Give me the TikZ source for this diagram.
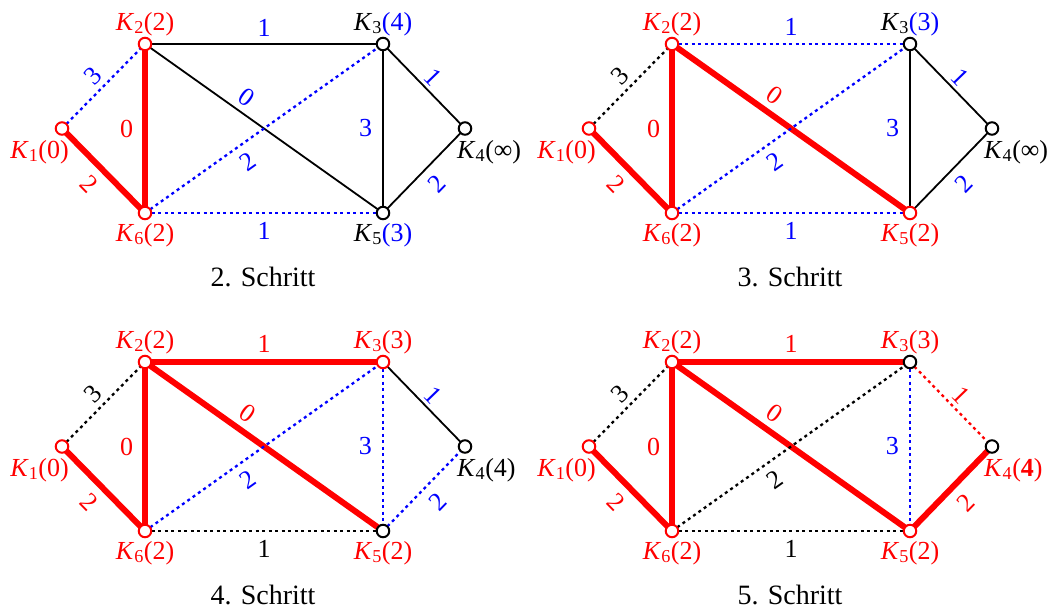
\documentclass[tikz,border=0pt]{standalone}
\usepackage{fontspec}
\setmainfont{Liberation Serif}
\pgfdeclarelayer{background}
\pgfsetlayers{background,main}
\newcommand\Kn[2]{\textit{K}\textsubscript{#1}(#2)}
\newcommand\Kh[1]{\textit{K}\textsubscript{#1}}
\tikzset{
  vx/.style={circle, draw=#1, fill=white, line width=2pt, minimum size=12.5pt, inner sep=0pt},
  vx/.default=black,
  txt/.style={inner sep=0pt, font=\fontsize{26}{30}\selectfont},
  captxt/.style={inner sep=0pt, font=\fontsize{28}{32}\selectfont},
  el/.style={inner sep=0pt, font=\fontsize{26}{30}\selectfont, text=#1},
  ered/.style={draw=red, line width=6pt},
  eblk/.style={draw=black, line width=1.8pt},
  edot/.style={draw=#1, line width=2.3pt, dash pattern=on 3pt off 3.5pt},
}
\begin{document}
\begin{tikzpicture}[x=1pt,y=-1pt]
\useasboundingbox (0,0) rectangle (1061,610);

% ---------------- Panel 1: 2. Schritt
\begin{scope}
\node[vx=red] (a1) at (62,128.5) {};
\node[vx=red] (a2) at (145,44) {};
\node[vx] (a3) at (383,44) {};
\node[vx] (a4) at (465,128.5) {};
\node[vx] (a5) at (383,213) {};
\node[vx=red] (a6) at (145,213) {};
\node[txt, text=red, anchor=east] (a1t) at (69,152) {\Kn{1}{0}};
\node[txt, text=red] (a2t) at (145,24) {\Kn{2}{2}};
\node[txt] (a3t) at (383,24) {\Kh{3}{\color{blue}(4)}};
\node[txt, anchor=west] (a4t) at (457,152) {\Kn{4}{∞}};
\node[txt] (a5t) at (383,235) {\Kh{5}{\color{blue}(3)}};
\node[txt, text=red] (a6t) at (145,235) {\Kn{6}{2}};
\node[captxt] (acap) at (263,277) {2. Schritt};
\begin{pgfonlayer}{background}
\draw[edot=blue] (a1.center) -- node[el=blue, sloped, above=5pt] {3} (a2.center);
\draw[ered] (a1.center) -- node[el=red, sloped, below=8pt] {2} (a6.center);
\draw[ered] (a2.center) -- node[el=red, left=9pt] {0} (a6.center);
\draw[eblk] (a2.center) -- node[el=blue, above=7pt] {1} (a3.center);
\draw[eblk] (a2.center) -- node[el=blue, pos=.39, sloped, above=6pt] {0} (a5.center);
\draw[edot=blue] (a6.center) -- node[el=blue, pos=.39, sloped, below=8pt] {2} (a3.center);
\draw[edot=blue] (a6.center) -- node[el=blue, below=8pt] {1} (a5.center);
\draw[eblk] (a3.center) -- node[el=blue, left=10pt] {3} (a5.center);
\draw[eblk] (a3.center) -- node[el=blue, sloped, above=4pt] {1} (a4.center);
\draw[eblk] (a5.center) -- node[el=blue, sloped, below=9pt] {2} (a4.center);
\end{pgfonlayer}
\end{scope}

% ---------------- Panel 2: 3. Schritt
\begin{scope}[shift={(527,0)}]
\node[vx=red] (b1) at (62,128.5) {};
\node[vx=red] (b2) at (145,44) {};
\node[vx] (b3) at (383,44) {};
\node[vx] (b4) at (465,128.5) {};
\node[vx=red] (b5) at (383,213) {};
\node[vx=red] (b6) at (145,213) {};
\node[txt, text=red, anchor=east] (b1t) at (69,152) {\Kn{1}{0}};
\node[txt, text=red] (b2t) at (145,24) {\Kn{2}{2}};
\node[txt] (b3t) at (383,24) {\Kh{3}{\color{blue}(3)}};
\node[txt, anchor=west] (b4t) at (457,152) {\Kn{4}{∞}};
\node[txt, text=red] (b5t) at (383,235) {\Kn{5}{2}};
\node[txt, text=red] (b6t) at (145,235) {\Kn{6}{2}};
\node[captxt] (bcap) at (263,277) {3. Schritt};
\begin{pgfonlayer}{background}
\draw[edot=black] (b1.center) -- node[el=black, sloped, above=5pt] {3} (b2.center);
\draw[ered] (b1.center) -- node[el=red, sloped, below=8pt] {2} (b6.center);
\draw[ered] (b2.center) -- node[el=red, left=9pt] {0} (b6.center);
\draw[edot=blue] (b2.center) -- node[el=blue, above=7pt] {1} (b3.center);
\draw[ered] (b2.center) -- node[el=red, pos=.39, sloped, above=6pt] {0} (b5.center);
\draw[edot=blue] (b6.center) -- node[el=blue, pos=.39, sloped, below=8pt] {2} (b3.center);
\draw[edot=blue] (b6.center) -- node[el=blue, below=8pt] {1} (b5.center);
\draw[eblk] (b3.center) -- node[el=blue, left=10pt] {3} (b5.center);
\draw[eblk] (b3.center) -- node[el=blue, sloped, above=4pt] {1} (b4.center);
\draw[eblk] (b5.center) -- node[el=blue, sloped, below=9pt] {2} (b4.center);
\end{pgfonlayer}
\end{scope}

% ---------------- Panel 3: 4. Schritt
\begin{scope}[shift={(0,318)}]
\node[vx=red] (c1) at (62,128.5) {};
\node[vx=red] (c2) at (145,44) {};
\node[vx=red] (c3) at (383,44) {};
\node[vx] (c4) at (465,128.5) {};
\node[vx] (c5) at (383,213) {};
\node[vx=red] (c6) at (145,213) {};
\node[txt, text=red, anchor=east] (c1t) at (69,152) {\Kn{1}{0}};
\node[txt, text=red] (c2t) at (145,24) {\Kn{2}{2}};
\node[txt, text=red] (c3t) at (383,24) {\Kn{3}{3}};
\node[txt, anchor=west] (c4t) at (457,152) {\Kn{4}{4}};
\node[txt, text=red] (c5t) at (383,235) {\Kn{5}{2}};
\node[txt, text=red] (c6t) at (145,235) {\Kn{6}{2}};
\node[captxt] (ccap) at (263,277) {4. Schritt};
\begin{pgfonlayer}{background}
\draw[edot=black] (c1.center) -- node[el=black, sloped, above=5pt] {3} (c2.center);
\draw[ered] (c1.center) -- node[el=red, sloped, below=8pt] {2} (c6.center);
\draw[ered] (c2.center) -- node[el=red, left=9pt] {0} (c6.center);
\draw[ered] (c2.center) -- node[el=red, above=7pt] {1} (c3.center);
\draw[ered] (c2.center) -- node[el=red, pos=.39, sloped, above=6pt] {0} (c5.center);
\draw[edot=blue] (c6.center) -- node[el=blue, pos=.39, sloped, below=8pt] {2} (c3.center);
\draw[edot=black] (c6.center) -- node[el=black, below=8pt] {1} (c5.center);
\draw[edot=blue] (c3.center) -- node[el=blue, left=10pt] {3} (c5.center);
\draw[eblk] (c3.center) -- node[el=blue, sloped, above=4pt] {1} (c4.center);
\draw[edot=blue] (c5.center) -- node[el=blue, sloped, below=9pt] {2} (c4.center);
\end{pgfonlayer}
\end{scope}

% ---------------- Panel 4: 5. Schritt
\begin{scope}[shift={(527,318)}]
\node[vx=red] (d1) at (62,128.5) {};
\node[vx=red] (d2) at (145,44) {};
\node[vx] (d3) at (383,44) {};
\node[vx] (d4) at (465,128.5) {};
\node[vx=red] (d5) at (383,213) {};
\node[vx=red] (d6) at (145,213) {};
\node[txt, text=red, anchor=east] (d1t) at (69,152) {\Kn{1}{0}};
\node[txt, text=red] (d2t) at (145,24) {\Kn{2}{2}};
\node[txt, text=red] (d3t) at (383,24) {\Kn{3}{3}};
\node[txt, text=red, anchor=west] (d4t) at (457,152) {\Kn{4}{\textbf{4}}};
\node[txt, text=red] (d5t) at (383,235) {\Kn{5}{2}};
\node[txt, text=red] (d6t) at (145,235) {\Kn{6}{2}};
\node[captxt] (dcap) at (263,277) {5. Schritt};
\begin{pgfonlayer}{background}
\draw[edot=black] (d1.center) -- node[el=black, sloped, above=5pt] {3} (d2.center);
\draw[ered] (d1.center) -- node[el=red, sloped, below=8pt] {2} (d6.center);
\draw[ered] (d2.center) -- node[el=red, left=9pt] {0} (d6.center);
\draw[ered] (d2.center) -- node[el=red, above=7pt] {1} (d3.center);
\draw[ered] (d2.center) -- node[el=red, pos=.39, sloped, above=6pt] {0} (d5.center);
\draw[edot=black] (d6.center) -- node[el=black, pos=.39, sloped, below=8pt] {2} (d3.center);
\draw[edot=black] (d6.center) -- node[el=black, below=8pt] {1} (d5.center);
\draw[edot=blue] (d3.center) -- node[el=blue, left=10pt] {3} (d5.center);
\draw[edot=red] (d3.center) -- node[el=red, sloped, above=4pt] {1} (d4.center);
\draw[ered] (d5.center) -- node[el=red, sloped, below=9pt] {2} (d4.center);
\end{pgfonlayer}
\end{scope}
\end{tikzpicture}
\end{document}
